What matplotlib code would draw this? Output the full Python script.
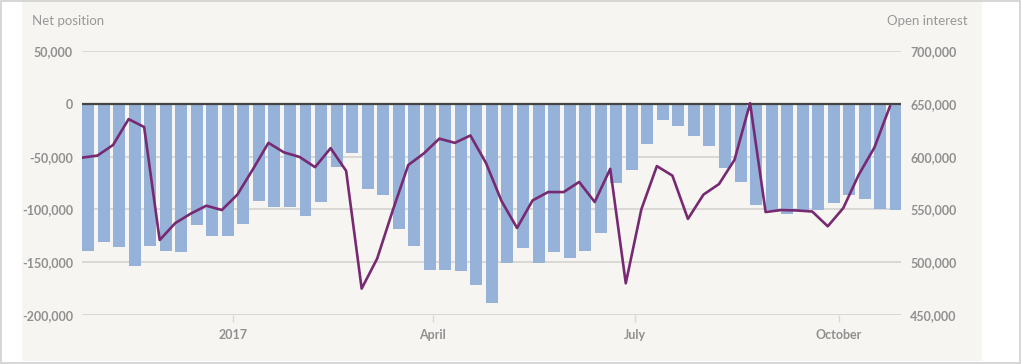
import datetime as dt
import matplotlib
matplotlib.use("Agg")
import matplotlib.pyplot as plt
from matplotlib.patches import Rectangle
from matplotlib.ticker import FuncFormatter


# weekly report dates (Tuesdays), Oct 2016 - Oct 2017
start = dt.date(2016, 10, 25)
dates = [start + dt.timedelta(weeks=i) for i in range(53)]

net_position = [
    -139000, -131000, -135500, -153500, -134600, -139300, -140000, -114800,
    -125000, -125000, -113800, -92500, -98000, -98000, -106000, -93000,
    -60000, -47000, -81000, -86500, -118500, -134600, -157000, -157000,
    -158000, -172000, -189000, -150600, -136500, -150600, -140000, -146000,
    -139000, -122000, -75000, -63000, -38000, -15700, -21400, -30800,
    -39600, -61000, -74000, -95600, -100600, -104400, -100600, -100600,
    -94300, -86800, -90600, -99400, -100600,
]

open_interest = [
    599000, 601000, 611000, 635500, 628000, 521000, 537000, 546000,
    553500, 549400, 564000, 588000, 613000, 604000, 599700, 590000,
    608000, 586500, 475000, 503500, 549000, 592000, 603000, 617000,
    613000, 620000, 594000, 558000, 532400, 558500, 566400, 566400,
    576000, 557000, 588400, 480000, 550000, 591000, 582000, 541000,
    564000, 574000, 597000, 650600, 547500, 549400, 549000, 548000,
    534000, 551300, 583000, 608500, 647500,
]

BG = "#f7f5f1"
BAR = "#96b2d9"
LINE = "#772a72"
GRID = "#d9d8d5"
TXT = "#999999"
TICK = "#909090"

plt.rcParams["font.family"] = ["Lato", "DejaVu Sans"]

fig = plt.figure(figsize=(10.21, 3.64), dpi=100)
fig.patch.set_facecolor("white")
fig.patches.append(Rectangle((22 / 1021, 3 / 364), 960 / 1021, 361 / 364,
                             transform=fig.transFigure, facecolor=BG,
                             edgecolor="none", zorder=-10))
fig.patches.append(Rectangle((0.5 / 1021, 1 / 364), 1019 / 1021, 362.5 / 364,
                             transform=fig.transFigure, facecolor="none",
                             edgecolor="#d0d0d0", lw=1.2, zorder=-5))

ax = fig.add_axes([82 / 1021, 49 / 364, 819 / 1021, 264 / 364])
ax.patch.set_alpha(0)

ax.bar(dates, net_position, width=5.4, align="edge", color=BAR, zorder=2)
ax.axhline(0, color="#444444", lw=1.6, zorder=4)

ax.set_ylim(-200000, 50000)
ax.set_yticks(range(-200000, 50001, 50000))
ax.yaxis.set_major_formatter(FuncFormatter(lambda v, p: f"{int(v):,}"))
ax.grid(axis="y", color=GRID, lw=1.4, zorder=0)
ax.set_xlim(dt.date(2016, 10, 25), dt.date(2017, 10, 29))

ax.set_xticks([dt.date(2017, 1, 1), dt.date(2017, 4, 1),
               dt.date(2017, 7, 1), dt.date(2017, 10, 1)])
ax.set_xticklabels(["2017", "April", "July", "October"])

for s in ax.spines.values():
    s.set_visible(False)
ax.tick_params(axis="y", length=0, pad=6.5, labelsize=9, labelcolor=TICK)
ax.tick_params(axis="x", length=5, width=1, color=GRID, pad=5,
               labelsize=9, labelcolor=TICK)
for lbl in ax.get_xticklabels() + ax.get_yticklabels():
    lbl.set_fontweight("bold")

ax2 = ax.twinx()
ax2.plot(dates, open_interest, color=LINE, lw=1.9, zorder=5)
ax2.set_ylim(450000, 700000)
ax2.set_yticks(range(450000, 700001, 50000))
ax2.yaxis.set_major_formatter(FuncFormatter(lambda v, p: f"{int(v):,}"))
for s in ax2.spines.values():
    s.set_visible(False)
ax2.tick_params(axis="y", length=0, pad=6.5, labelsize=9, labelcolor=TICK)
for lbl in ax2.get_yticklabels():
    lbl.set_fontweight("bold")

fig.text(32 / 1021, 1 - 21 / 364, "Net position", fontsize=9.5, color=TXT,
         ha="left", va="center")
fig.text(968 / 1021, 1 - 21 / 364, "Open interest", fontsize=9.5, color=TXT,
         ha="right", va="center")

fig.savefig("out.png", dpi=100, facecolor=fig.get_facecolor())
